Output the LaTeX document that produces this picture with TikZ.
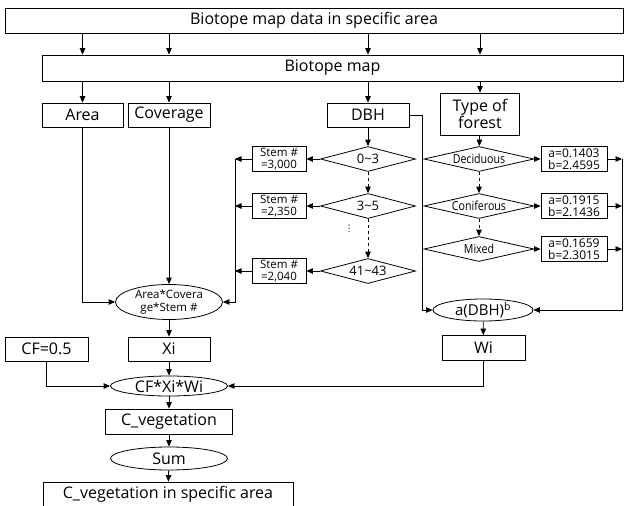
\documentclass[tikz,border=0pt]{standalone}
\usepackage{fontspec}
\setmainfont{Open Sans}
\newfontfamily\symfont{DejaVu Sans}
\usetikzlibrary{arrows.meta,shapes.geometric}

\begin{document}
\begin{tikzpicture}[x=1pt,y=-1pt,>={Triangle[length=6.5pt,width=5.5pt]},line width=0.8pt,
  box/.style={draw,rectangle,inner sep=0pt,minimum height=25pt,font=\fontsize{16}{18}\selectfont},
  smallbox/.style={draw,rectangle,inner sep=0pt,minimum width=54pt,minimum height=25pt,align=center,font=\fontsize{11.5}{11.5}\selectfont},
  coefbox/.style={draw,rectangle,inner sep=0pt,minimum width=66pt,minimum height=25pt,align=center,font=\fontsize{12}{12.5}\selectfont},
  rangediamond/.style={draw,diamond,aspect=4,inner sep=0pt,minimum width=95pt,minimum height=25pt,font=\fontsize{13}{14}\selectfont},
  kinddiamond/.style={draw,diamond,aspect=4,inner sep=0pt,minimum width=110pt,minimum height=25pt,font=\fontsize{12.5}{13}\selectfont},
  calcellipse/.style={draw,ellipse,inner sep=0pt,align=center}]
\clip (0,0) rectangle (624,506);
\node[box,minimum width=618pt] (data) at (314,20.5) {Biotope map data in specific area};
\node[box,minimum width=581pt,minimum height=26pt] (bmap) at (332.5,68) {Biotope map};
\node[box,minimum width=81pt,minimum height=24pt] (area) at (82.5,115) {Area};
\node[box,minimum width=82pt,minimum height=24pt] (cover) at (169,115) {Coverage};
\node[box,minimum width=82pt,minimum height=24pt] (dbh) at (368,115) {DBH};
\node[box,minimum width=79pt,minimum height=42pt,align=center,font=\fontsize{16}{17}\selectfont] (type) at (480,114) {Type of\\forest};
\node[rangediamond] (d1) at (368,159) {0\textasciitilde3};
\node[rangediamond] (d2) at (368,206) {3\textasciitilde5};
\node[rangediamond] (d3) at (368,271) {41\textasciitilde43};
\node[font=\symfont\fontsize{9}{9}\selectfont,inner sep=0pt] (dots) at (349,229) {⋮};
\node[smallbox] (stem1) at (279,159) {Stem \#\\=3,000};
\node[smallbox] (stem2) at (279,206) {Stem \#\\=2,350};
\node[smallbox] (stem3) at (279,271) {Stem \#\\=2,040};
\node[kinddiamond] (f1) at (479,159) {\scalebox{0.85}[1]{Deciduous}};
\node[kinddiamond] (f2) at (479,206) {\scalebox{0.85}[1]{Coniferous}};
\node[kinddiamond] (f3) at (479,249) {\scalebox{0.85}[1]{Mixed}};
\node[coefbox] (coef1) at (574,159) {a=0.1403\\b=2.4595};
\node[coefbox] (coef2) at (574,206) {a=0.1915\\b=2.1436};
\node[coefbox] (coef3) at (574,249) {a=0.1659\\b=2.3015};
\node[calcellipse,minimum width=107pt,minimum height=35pt,font=\fontsize{11.5}{13}\selectfont] (acs) at (169,302) {Area*Covera\\ge*Stem \#};
\node[calcellipse,minimum width=100pt,minimum height=19pt,font=\fontsize{15}{16}\selectfont] (dbhe) at (483,310) {a(DBH)\textsuperscript{b}};
\node[box,minimum width=83pt] (wi) at (483.5,348) {Wi};
\node[box,minimum width=82pt,minimum height=24pt] (xi) at (169,349) {Xi};
\node[box,minimum width=83pt,minimum height=24pt] (cf) at (46.5,349) {CF=0.5};
\node[calcellipse,minimum width=117pt,minimum height=20pt,font=\fontsize{16}{17}\selectfont] (cfxw) at (169,386) {CF*Xi*Wi};
\node[box,minimum width=127pt] (cveg) at (169,421.5) {C\_vegetation};
\node[calcellipse,minimum width=117pt,minimum height=23pt,font=\fontsize{16}{17}\selectfont] (sum) at (169,458.5) {Sum};
\node[box,minimum width=250pt] (out) at (168,494.5) {C\_vegetation in specific area};
\coordinate (lbus) at (235,159);
\coordinate (rbus) at (622,159);
\coordinate (tap) at (422,115);
\foreach \n in {area,cover,dbh,type} {
  \draw[->] (data.south -| \n) -- (bmap.north -| \n);
  \draw[->] (bmap.south -| \n) -- (\n.north);
}
\draw[->] (area.south) |- (acs.west);
\draw[->] (cover.south) -- (acs.north);
\draw[->] (dbh) -- (d1);
\draw[->,dashed] (d1) -- (d2);
\draw[->,dashed] (d2) -- (d3);
\foreach \i in {1,2,3} {
  \draw[->] (d\i.west) -- (stem\i.east);
  \draw[->] (stem\i.west) -- (stem\i.west -| lbus);
  \draw[->] (f\i.east) -- (coef\i.west);
  \draw[->] (coef\i.east) -- (coef\i.east -| rbus);
}
\draw[->] (lbus) |- (acs.east);
\draw[->] (rbus) |- (dbhe.east);
\draw (dbh.east) -- (tap);
\draw[->] (tap) |- (dbhe.west);
\draw[->] (type) -- (f1);
\draw[->,dashed] (f1) -- (f2);
\draw[->,dashed] (f2) -- (f3);
\draw[->] (acs) -- (xi);
\draw[->] (xi) -- (cfxw);
\draw[->] (cf.south) |- (cfxw.west);
\draw[->] (dbhe) -- (wi);
\draw[->] (wi.south) |- (cfxw.east);
\draw[->] (cfxw) -- (cveg);
\draw[->] (cveg) -- (sum);
\draw[->] (sum) -- (out);
\end{tikzpicture}
\end{document}
